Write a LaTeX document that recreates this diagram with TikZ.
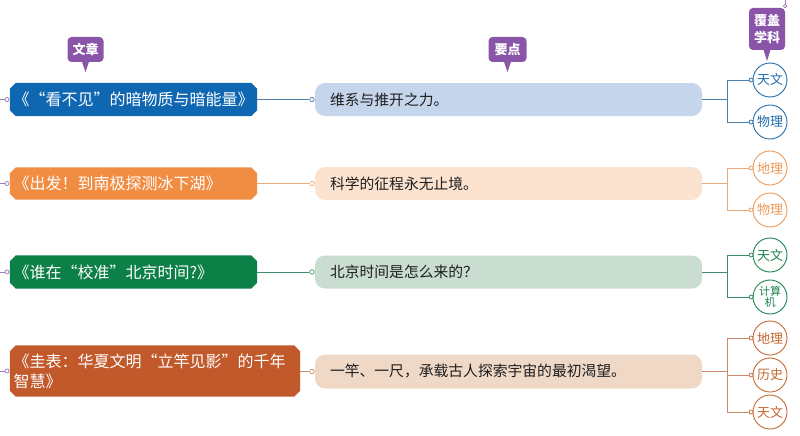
\documentclass[tikz,border=0pt]{standalone}
\usepackage{fontspec}
\setmainfont{Noto Sans CJK SC}
\usetikzlibrary{calc,backgrounds}
\definecolor{bluD}{HTML}{0F67B1}
\definecolor{bluL}{HTML}{C5D5EC}
\definecolor{bluM}{HTML}{4E7FAA}
\definecolor{bluC}{HTML}{1F6CAD}
\definecolor{oraD}{HTML}{F18D43}
\definecolor{oraL}{HTML}{FCE3CF}
\definecolor{oraM}{HTML}{EDA978}
\definecolor{oraC}{HTML}{EE9855}
\definecolor{greD}{HTML}{0C8046}
\definecolor{greL}{HTML}{C9DDD1}
\definecolor{greM}{HTML}{3F8C66}
\definecolor{greC}{HTML}{1E8250}
\definecolor{rusD}{HTML}{C1592B}
\definecolor{rusL}{HTML}{EFD8C6}
\definecolor{rusM}{HTML}{C98A6A}
\definecolor{rusC}{HTML}{C4662F}
\definecolor{purp}{HTML}{8A55A8}
\definecolor{purpL}{HTML}{9E78B8}
\definecolor{darktext}{HTML}{1E1E1E}
\newcommand{\chamfbox}[2]{\fill[#2] ($(#1.north west)+(6,0)$) -- ($(#1.north east)+(-6,0)$) -- ($(#1.north east)+(0,6)$) -- ($(#1.south east)+(0,-6)$) -- ($(#1.south east)+(-6,0)$) -- ($(#1.south west)+(6,0)$) -- ($(#1.south west)+(0,-6)$) -- ($(#1.north west)+(0,6)$) -- cycle;}
\begin{document}
\begin{tikzpicture}[x=1pt,y=-1pt,
  lbox/.style={rectangle, inner sep=0pt, minimum width=#1, text width=#1-7pt, align=left, text=white, font=\fontsize{16}{20}\selectfont},
  mbox/.style={rectangle, rounded corners=10pt, inner sep=0pt, minimum width=387pt, text width=357pt, align=left, text=darktext, font=\fontsize{14.8}{18}\selectfont},
  dot/.style={circle, draw, fill=white, inner sep=0pt, minimum size=4.5pt, line width=0.7pt},
  subj/.style={circle, draw, fill=white, inner sep=0pt, minimum size=34pt, line width=0.9pt, font=\fontsize{13}{13}\selectfont, align=center},
  conn/.style={line width=0.9pt},
  tagbox/.style={rectangle, rounded corners=4pt, fill=purp, text=white, inner sep=0pt, font=\bfseries\fontsize{13}{17}\selectfont, align=center}
]
\useasboundingbox (0,0) rectangle (800,436);

% left article boxes
\node[lbox=247pt, minimum height=33pt] (L1) at (133.5,99.5) {《“看不见”的暗物质与暗能量》};
\node[lbox=247pt, minimum height=32pt] (L2) at (133.5,183.5) {《出发！到南极探测冰下湖》};
\node[lbox=247pt, minimum height=33pt] (L3) at (133.5,272) {《谁在“校准”北京时间?》};
\node[lbox=290pt, minimum height=51pt] (L4) at (155,371) {《圭表：华夏文明“立竿见影”的千年\\智慧》};
\begin{scope}[on background layer]
\chamfbox{L1}{bluD}
\chamfbox{L2}{oraD}
\chamfbox{L3}{greD}
\chamfbox{L4}{rusD}
\end{scope}

% middle key-point boxes
\node[mbox, fill=bluL, minimum height=33pt] (M1) at (508.5,99.5) {维系与推开之力。};
\node[mbox, fill=oraL, minimum height=33pt] (M2) at (508.5,183.5) {科学的征程永无止境。};
\node[mbox, fill=greL, minimum height=33pt] (M3) at (508.5,272) {北京时间是怎么来的？};
\node[mbox, fill=rusL, minimum height=34pt] (M4) at (508.5,371.5) {一竿、一尺，承载古人探索宇宙的最初渴望。};

% left stubs
\foreach \i/\y in {1/99.5,2/183.5,3/272,4/371}{
  \coordinate (e\i) at (0,\y);
  \node[dot, draw=purpL, minimum size=4pt] (ld\i) at (7,\y) {};
  \draw[purpL, line width=0.8pt] (e\i) -- (ld\i);
}

% left -> middle connectors
\node[dot, draw=bluM] (md1) at (312,99.5) {};
\node[dot, draw=oraM] (md2) at (312,183.5) {};
\node[dot, draw=greM] (md3) at (312,272) {};
\node[dot, draw=rusM] (md4) at (312,371.5) {};
\draw[conn, bluM] (L1.east) -- (md1);
\draw[conn, oraM] (L2.east) -- (md2);
\draw[conn, greM] (L3.east) -- (md3);
\draw[conn, rusM] (L4.east |- md4) -- (md4);

% subject circles
\node[subj, draw=bluC, text=bluC] (S1a) at (770,80) {天文};
\node[subj, draw=bluC, text=bluC] (S1b) at (770,122) {物理};
\node[subj, draw=oraC, text=oraC] (S2a) at (770,168) {地理};
\node[subj, draw=oraC, text=oraC] (S2b) at (770,210) {物理};
\node[subj, draw=greC, text=greC] (S3a) at (770,255) {天文};
\node[subj, draw=greC, text=greC, font=\fontsize{11}{10.5}\selectfont] (S3b) at (770,297) {计算\\机};
\node[subj, draw=rusC, text=rusC] (S4a) at (770,338) {地理};
\node[subj, draw=rusC, text=rusC] (S4b) at (770,375) {历史};
\node[subj, draw=rusC, text=rusC] (S4c) at (770,412) {天文};

% dots before circles
\foreach \n/\c in {S1a/bluC,S1b/bluC,S2a/oraC,S2b/oraC,S3a/greC,S3b/greC,S4a/rusC,S4b/rusC,S4c/rusC}{
  \node[dot, draw=\c, minimum size=4pt] (\n d) at ($(\n.west)+(-1.5,0)$) {};
}

% brackets
\coordinate (B1) at (727,99.5);
\coordinate (B2) at (727,183.5);
\coordinate (B3) at (727,272);
\coordinate (B4) at (727,371.5);
\draw[conn, bluM] (M1.east) -- (B1) |- (S1ad);
\draw[conn, bluM] (B1) |- (S1bd);
\draw[conn, oraM] (M2.east) -- (B2) |- (S2ad);
\draw[conn, oraM] (B2) |- (S2bd);
\draw[conn, greM] (M3.east) -- (B3) |- (S3ad);
\draw[conn, greM] (B3) |- (S3bd);
\draw[conn, rusM] (M4.east) -- (B4) |- (S4ad);
\draw[conn, rusM] (B4 |- S4a) -- (B4 |- S4c) -- (S4cd);
\draw[conn, rusM] (B4 |- S4b) -- (S4bd);

% header tags
\node[tagbox, minimum width=36pt, minimum height=25pt] (T1) at (85.5,49.5) {文章};
\fill[purp] ($(T1.south)+(-3.5,-0.5)$) -- (85.5,72) -- ($(T1.south)+(3.5,-0.5)$) -- cycle;
\node[tagbox, minimum width=38pt, minimum height=25pt] (T2) at (507.5,49.5) {要点};
\fill[purp] ($(T2.south)+(-3.5,-0.5)$) -- (507.5,72) -- ($(T2.south)+(3.5,-0.5)$) -- cycle;
\node[tagbox, minimum width=36pt, minimum height=42pt] (T3) at (767,29) {覆盖\\学科};
\fill[purp] ($(T3.south)+(-3.5,-0.5)$) -- (767,61) -- ($(T3.south)+(3.5,-0.5)$) -- cycle;
\coordinate (T3top) at (785,0);
\node[dot, draw=purpL, minimum size=3.5pt] (T3d) at (785,6) {};
\draw[purpL, line width=0.7pt] (T3top) -- (T3d);
\end{tikzpicture}
\end{document}
